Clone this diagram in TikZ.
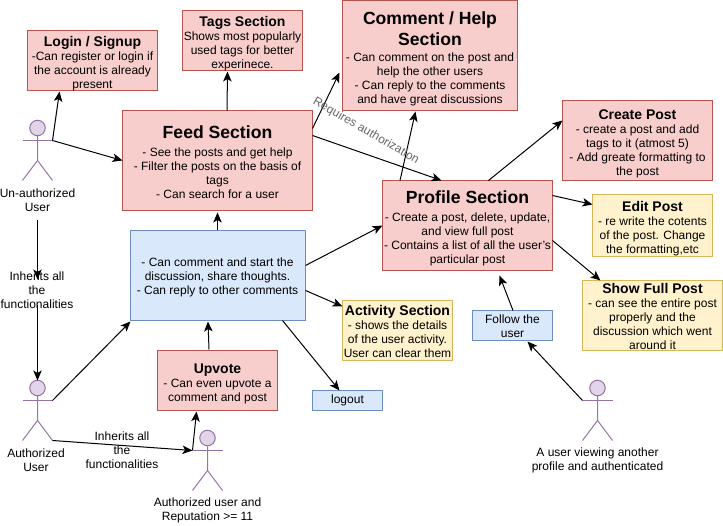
\documentclass[tikz,border=0pt]{standalone}
\usepackage{fontspec}
\setmainfont{Liberation Sans}
\usetikzlibrary{arrows.meta}
\definecolor{redF}{HTML}{F8CECC}\definecolor{redS}{HTML}{B85450}
\definecolor{bluF}{HTML}{DAE8FC}\definecolor{bluS}{HTML}{6C8EBF}
\definecolor{yelF}{HTML}{FFF2CC}\definecolor{yelS}{HTML}{D6B656}
\definecolor{purF}{HTML}{E1D5E7}\definecolor{purS}{HTML}{9673A6}
\newcommand{\bt}[2][16pt]{{\fontsize{14}{14}\selectfont\bfseries\rule{0pt}{#1}#2}}
\newcommand{\Bt}[2][12pt]{{\fontsize{17.6}{19}\selectfont\bfseries\rule{0pt}{#1}#2}}
\tikzset{
  base/.style={draw,line width=1pt,inner sep=0pt,align=center,font=\fontsize{12}{14}\selectfont,anchor=center},
  redbox/.style={base,draw=redS,fill=redF},
  blubox/.style={base,draw=bluS,fill=bluF},
  yelbox/.style={base,draw=yelS,fill=yelF},
  txt/.style={inner sep=0pt,align=center,font=\fontsize{12}{14}\selectfont},
  arr/.style={-{Stealth[length=10pt,width=8.5pt,inset=2.5pt]},line width=1pt,black},
  lim/.style={line width=1pt,draw=purS},
  head/.style={circle,draw=purS,fill=purF,line width=1pt,minimum size=15.5pt,inner sep=0pt}
}
\newcommand{\actor}[3]{% name, cx, arm y
  \node[head] (#1h) at (#2,#3-12.5) {};
  \coordinate (#1l) at (#2-15,#3);
  \coordinate (#1r) at (#2+15,#3);
  \coordinate (#1f) at (#2+15,#3+40);
  \draw[lim] (#1l) -- (#1r);
  \draw[lim] (#1h.south) -- (#2,#3+20) -- (#2-15,#3+40);
  \draw[lim] (#2,#3+20) -- (#1f);
}
\begin{document}
\begin{tikzpicture}[x=1pt,y=-1pt]
\useasboundingbox (0,0) rectangle (723,526);
\begin{scope}[shift={(0.5,0.5)}]
% boxes
\node[redbox,minimum width=130pt,minimum height=60pt] (login) at (92,60) {\bt{Login / Signup}\\-Can register or login if\\the account is already\\present};
\node[redbox,minimum width=120pt,minimum height=60pt] (tags) at (242,40) {\bt{Tags Section}\\Shows most popularly\\used tags for better\\experinece.};
\node[redbox,minimum width=175pt,minimum height=110pt] (comment) at (429.5,55) {\Bt[19.7pt]{Comment / Help}\\[3pt]\Bt{Section}\\[2pt]- Can comment on the post and\\help the other users\\- Can reply to the comments\\and have great discussions};
\node[redbox,minimum width=190pt,minimum height=100pt] (feed) at (217,160) {\Bt[17pt]{Feed Section}\\[4pt]- See the posts and get help\\- Filter the posts on the basis of\\tags\\- Can search for a user};
\node[blubox,minimum width=175pt,minimum height=90pt] (main) at (217,275) {\rule{0pt}{12.7pt}- Can comment and start the\\discussion, share thoughts.\\- Can reply to other comments};
\node[redbox,minimum width=150pt,minimum height=80pt] (create) at (637,140) {\bt{Create Post}\\- create a post and add\\tags to it (atmost 5)\\- Add greate formatting to\\the post};
\node[redbox,minimum width=170pt,minimum height=90pt] (profile) at (467,225) {\Bt[17.5pt]{Profile Section}\\[4pt]- Create a post, delete, update,\\and view full post\\- Contains a list of all the user's\\particular post};
\node[yelbox,minimum width=120pt,minimum height=60pt] (edit) at (652,225) {\bt[17pt]{Edit Post}\\- re write the cotents\\of the post. Change\\the formatting,etc};
\node[yelbox,minimum width=140pt,minimum height=70pt] (show) at (652,315) {\bt[13pt]{Show Full Post}\\- can see the entire post\\properly and the\\discussion which went\\around it};
\node[yelbox,minimum width=110pt,minimum height=60pt] (activity) at (397,330) {\bt[13pt]{Activity Section}\\- shows the details\\of the user activity.\\User can clear them};
\node[blubox,minimum width=80pt,minimum height=30pt] (follow) at (512,325) {\rule{0pt}{11pt}Follow the\\user};
\node[blubox,minimum width=70pt,minimum height=20pt] (logout) at (347,400) {logout};
\node[redbox,minimum width=120pt,minimum height=60pt] (upvote) at (217,380) {\bt{Upvote}\\- Can even upvote a\\comment and post};
% actors
\actor{ua}{37}{140}
\actor{au}{37}{400}
\actor{re}{207}{450}
\actor{vi}{597}{400}
\node[txt] (ualab) at (37,200) {Un-authorized\\User};
\node[txt] (aulab) at (35.5,460) {Authorized\\User};
\node[txt] (relab) at (207,510) {Authorized user and\\Reputation >= 11};
\node[txt] (vilab) at (597,460) {A user viewing another\\profile and authenticated};
% connector end points
\coordinate (c1) at (59,91);
\coordinate (c2) at (122,160);
\coordinate (c3a) at (226.5,110); \coordinate (c3b) at (227,71);
\coordinate (c4a) at (312,128); \coordinate (c4b) at (339,72);
\coordinate (c5a) at (312,135); \coordinate (c5b) at (441,180);
\coordinate (c6a) at (399.5,180); \coordinate (c6b) at (415,111);
\coordinate (c7a) at (488,180); \coordinate (c7b) at (562,120);
\coordinate (c8a) at (552,195); \coordinate (c8b) at (592,204);
\coordinate (c9a) at (552,240); \coordinate (c9b) at (600,280);
\coordinate (c10a) at (512.5,310); \coordinate (c10b) at (499,275);
\coordinate (c11) at (527,341);
\coordinate (c12a) at (217,230); \coordinate (c12b) at (217,212);
\coordinate (c13a) at (305,265); \coordinate (c13b) at (382,225);
\coordinate (c14a) at (305,290); \coordinate (c14b) at (342,306);
\coordinate (c15a) at (282,320); \coordinate (c15b) at (339,390);
\coordinate (c16a) at (208.5,349); \coordinate (c16b) at (207.5,321);
\coordinate (c17) at (130,321);
\coordinate (c18) at (192,450);
\coordinate (c19) at (196,411);
\coordinate (c20a) at (37,220); \coordinate (c20b) at (37,279); \coordinate (c20c) at (37,305); \coordinate (c20d) at (37,380);
% connectors
\draw[arr] (uar) -- (c1);
\draw[arr] (uar) -- (c2);
\draw[arr] (c3a) -- (c3b);
\draw[arr] (c4a) -- (c4b);
\draw[arr] (c5a) -- (c5b);
\draw[arr] (c6a) -- (c6b);
\draw[arr] (c7a) -- (c7b);
\draw[arr] (c8a) -- (c8b);
\draw[arr] (c9a) -- (c9b);
\draw[arr] (c10a) -- (c10b);
\draw[arr] (vil) -- (c11);
\draw[arr] (c12a) -- (c12b);
\draw[arr] (c13a) -- (c13b);
\draw[arr] (c14a) -- (c14b);
\draw[arr] (c15a) -- (c15b);
\draw[arr] (c16a) -- (c16b);
\draw[arr] (aur) -- (c17);
\draw[arr] (auf) -- (c18);
\draw[arr] (c18) -- (c19);
\draw[arr] (c20a) -- (c20b);
\draw[arr] (c20c) -- (c20d);
% labels
\node[txt] (inh1) at (36.5,290) {Inherits all\\the\\functionalities};
\node[txt] (inh2) at (121.5,450) {Inherits all\\the\\functionalities};
\node[txt,rotate=-30,text=black!60] (req) at (365.5,130.5) {Requires authorization};
\end{scope}
\end{tikzpicture}
\end{document}
